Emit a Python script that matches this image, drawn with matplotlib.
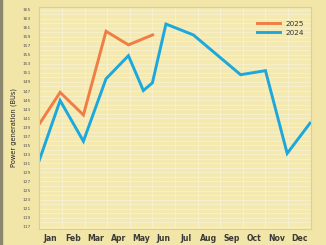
import matplotlib
matplotlib.use("Agg")
import matplotlib.pyplot as plt
import numpy as np

months = ["Jan", "Feb", "Mar", "Apr", "May", "Jun", "Jul", "Aug", "Sep", "Oct", "Nov", "Dec"]

# positions in months from the start of the year
x2025 = [0, 0.92, 1.95, 2.95, 3.94, 5.01]
y2025 = [139.7, 146.7, 141.7, 160.2, 157.2, 159.4]

x2024 = [0, 0.92, 1.95, 2.95, 3.94, 4.6, 5.0, 5.6, 6.81, 8.9, 10.0, 10.96, 11.97]
y2024 = [131.7, 144.9, 135.9, 149.7, 154.8, 147.1, 148.8, 161.8, 159.4, 150.6, 151.5, 133.2, 139.9]

yticks = list(range(117, 166, 2))

bg = "#f1e5a7"
face = "#f4e9b0"
orange = "#ef7d45"
blue = "#1ca8dc"

fig = plt.figure(figsize=(3.26, 2.45), dpi=100, facecolor=bg)
ax = fig.add_axes([0.1206, 0.0653, 0.8325, 0.9049])
ax.set_facecolor(face)

ax.plot(x2025, y2025, color=orange, linewidth=2.1, label="2025", solid_joinstyle="miter")
ax.plot(x2024, y2024, color=blue, linewidth=2.1, label="2024", solid_joinstyle="miter")

ax.set_xlim(0, 12)
ax.set_ylim(116.5, 165.5)

ax.set_yticks(yticks)
ax.set_yticklabels([str(v) for v in yticks])
ax.set_yticks(np.arange(117, 166, 1), minor=True)
ax.set_xticks(np.arange(0.5, 12, 1))
ax.set_xticklabels(months)
ax.set_xticks(np.arange(0, 12.1, 0.5), minor=True)

ax.tick_params(axis="y", which="both", length=0, labelsize=3.2, labelcolor="#555555", pad=6)
ax.tick_params(axis="x", which="both", length=0, labelsize=5.6, labelcolor="#3a3a3a", pad=3.5)
for lbl in ax.get_xticklabels():
    lbl.set_fontweight("semibold")

ax.grid(which="minor", color="white", linewidth=0.5, alpha=0.45)
ax.grid(which="major", axis="y", color="white", linewidth=0.5, alpha=0.45)
ax.set_axisbelow(True)

for s in ax.spines.values():
    s.set_color("#ddd08e")
    s.set_linewidth(0.8)

fig.text(0.043, 0.48, "Power generation (BUs)", rotation=90, ha="center", va="center",
         fontsize=4.8, color="#222222")

leg = ax.legend(loc="upper right", frameon=False, fontsize=5.2, handlelength=3.2,
                bbox_to_anchor=(1.0, 0.97), labelspacing=0.45)
for t in leg.get_texts():
    t.set_color("#333333")

# dark strip on the left edge
fig.patches.append(plt.Rectangle((0, 0), 0.006, 1, transform=fig.transFigure,
                                 color="#8a876c", zorder=5))

fig.savefig("out.png", dpi=100, facecolor=bg)
